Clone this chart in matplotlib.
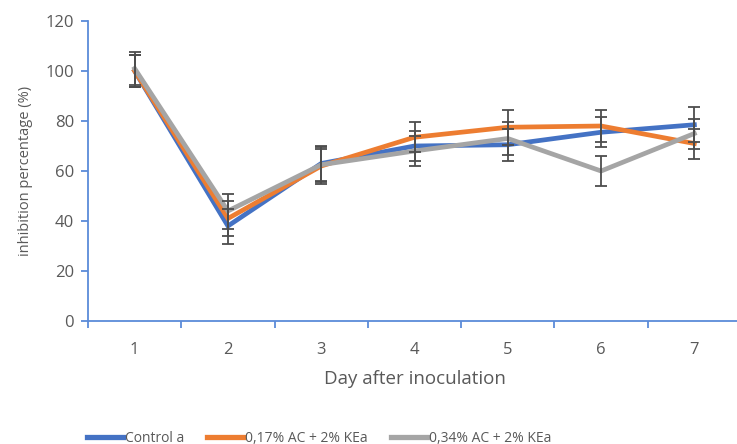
import matplotlib
matplotlib.use("Agg")
import matplotlib.pyplot as plt

plt.rcParams["font.family"] = ["Open Sans", "DejaVu Sans"]

# ---- data ----
days = [1, 2, 3, 4, 5, 6, 7]
series_names = ["Control a", "0,17% AC + 2% KEa", "0,34% AC + 2% KEa"]
control = [100, 38, 63, 70, 70.5, 75.5, 78.5]
ac017 = [100, 41, 62, 73.5, 77.5, 78, 71]
ac034 = [101, 44, 62.5, 68, 73, 60, 75]
err_control = [6.5, 7, 7, 6, 6.5, 6, 7]
err_ac017 = [6.5, 7, 7, 6, 7, 6.5, 6]
err_ac034 = [6.5, 7, 7, 6, 6.5, 6, 6]
yticks = [0, 20, 40, 60, 80, 100, 120]

colors = ["#4472C4", "#ED7D31", "#A5A5A5"]
axis_blue = "#5B8BD9"
text_grey = "#595959"

fig = plt.figure(figsize=(7.37, 4.44), dpi=100)
ax = fig.add_axes([88 / 737, 1 - 321 / 444, (741 - 88) / 737, 300 / 444])

for vals, errs, c, name in zip([control, ac017, ac034],
                               [err_control, err_ac017, err_ac034],
                               colors, series_names):
    ax.plot(days, vals, color=c, linewidth=3.4, label=name,
            solid_joinstyle="miter", zorder=3)
    ax.errorbar(days, vals, yerr=errs, fmt="none", ecolor="#4d4d4d",
                elinewidth=1.3, capsize=4, capthick=1.3, zorder=4)

ax.set_xlim(0.5, 7.5)
ax.set_ylim(0, 120)
ax.set_yticks(yticks)
ax.set_xticks(days)
ax.set_xticks([d + 0.5 for d in days[:-1]] + [0.5], minor=True)

for s in ["top", "right"]:
    ax.spines[s].set_visible(False)
for s in ["left", "bottom"]:
    ax.spines[s].set_color(axis_blue)
    ax.spines[s].set_linewidth(1.3)

ax.tick_params(axis="y", colors=axis_blue, length=5, width=1.3,
               labelcolor=text_grey, labelsize=12, pad=5)
ax.tick_params(axis="x", which="major", length=0, labelcolor=text_grey,
               labelsize=12, pad=15)
ax.tick_params(axis="x", which="minor", colors=axis_blue, length=5, width=1.3)

ax.set_ylabel("inhibition percentage (%)", color=text_grey, fontsize=10.5,
              labelpad=9)
ax.set_xlabel("Day after inoculation", color=text_grey, fontsize=13.5,
              labelpad=9)

leg = ax.legend(loc="upper left", bbox_to_anchor=(74 / 737, 0.058),
                bbox_transform=fig.transFigure, ncol=3, frameon=False,
                fontsize=10, handlelength=2.6, handletextpad=0.15,
                columnspacing=1.65, labelcolor=text_grey)
for line in leg.get_lines():
    line.set_linewidth(3.8)

fig.savefig("out.png", dpi=100)
